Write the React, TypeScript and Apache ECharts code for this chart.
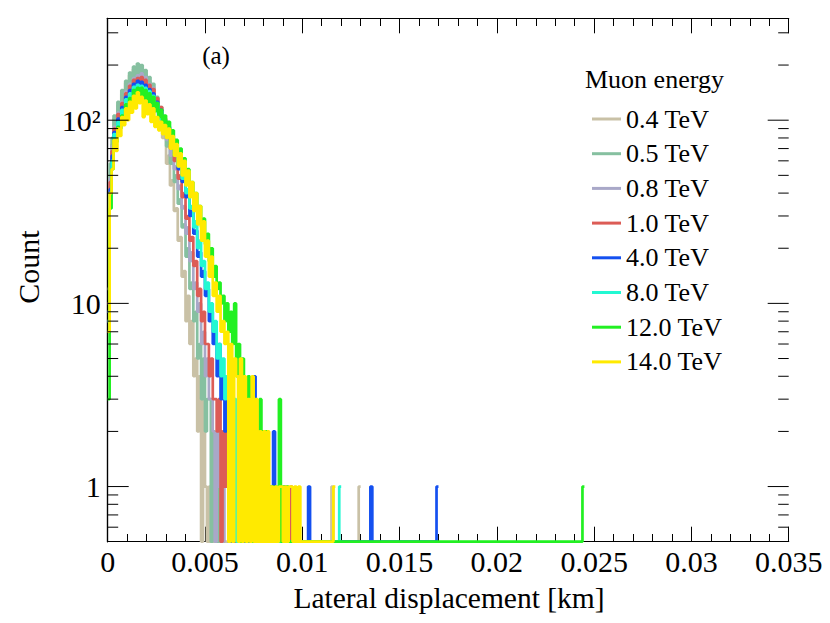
import React, { useEffect, useRef } from 'react';
import * as echarts from 'echarts';

// ---------- data ----------
const BIN_WIDTH = 0.0001; // km per histogram bin
const X_MIN = 0;
const X_MAX = 0.035;
const X_INTERVAL = 0.005;
const Y_MIN = 0.5;
const Y_MAX = 360;
const Y_TICK_VALUES = [1, 10, 100];
const Y_TICK_TEXT = ['1', '10', '10²'];
const Y_MINOR_TICKS = [0.6, 0.7, 0.8, 0.9, 2, 3, 4, 5, 6, 7, 8, 9, 20, 30, 40, 50, 60, 70, 80, 90, 200, 300];

const ENERGIES = ['0.4 TeV', '0.5 TeV', '0.8 TeV', '1.0 TeV', '4.0 TeV', '8.0 TeV', '12.0 TeV', '14.0 TeV'];
const COLORS = ['#c9c1a6', '#86c0a0', '#a9a8c8', '#dc5c56', '#1450f0', '#22f8d2', '#22f022', '#ffea00'];

// counts per bin (bin i covers [i*BIN_WIDTH, (i+1)*BIN_WIDTH])
const COUNTS_04 = [12, 52, 74, 102, 96, 121, 114, 140, 128, 160, 140, 176, 158, 190, 166, 194, 170, 188, 156, 178, 146, 162, 132, 148, 116, 124, 98, 106, 80, 84, 58, 64, 44, 47, 32, 33, 22, 23, 14, 15, 8, 11, 6, 8, 4, 5, 2, 4, 0, 3, 1, 0, 1, 0, 2, 0, 1];
const TAIL_04 = [[83, 1], [115, 1], [129, 1]];
const COUNTS_05 = [9, 58, 80, 106, 92, 126, 112, 146, 128, 164, 144, 182, 156, 196, 164, 204, 172, 200, 166, 188, 158, 172, 146, 158, 128, 134, 108, 118, 88, 98, 72, 80, 58, 64, 46, 50, 35, 37, 26, 27, 18, 20, 12, 13, 8, 9, 5, 6, 3, 5, 2, 3, 3, 0, 2, 1, 0, 1, 0, 1];
const TAIL_05: number[][] = [];
const COUNTS_08 = [8, 48, 72, 92, 90, 110, 106, 126, 120, 144, 128, 158, 140, 170, 148, 176, 156, 180, 150, 172, 144, 158, 134, 150, 120, 130, 106, 114, 92, 96, 78, 82, 64, 68, 54, 56, 42, 44, 33, 34, 24, 26, 17, 19, 12, 13, 9, 10, 6, 7, 4, 5, 3, 3, 2, 0, 2, 1, 1, 0, 1, 1];
const TAIL_08: number[][] = [];
const COUNTS_10 = [10, 46, 68, 90, 88, 108, 104, 124, 116, 140, 128, 154, 136, 166, 146, 170, 150, 172, 146, 166, 140, 156, 130, 148, 120, 132, 108, 118, 96, 102, 84, 88, 70, 74, 60, 62, 48, 50, 38, 40, 29, 30, 22, 23, 16, 17, 11, 12, 8, 9, 6, 6, 4, 5, 3, 3, 2, 3, 0, 2, 1, 2, 0, 1, 1];
const TAIL_10 = [[94, 1]];
const COUNTS_40 = [9, 42, 64, 86, 84, 102, 98, 118, 110, 134, 122, 146, 132, 158, 140, 164, 140, 162, 138, 156, 132, 148, 124, 140, 116, 126, 104, 114, 94, 100, 84, 92, 74, 80, 64, 68, 54, 58, 46, 48, 38, 40, 30, 32, 24, 25, 18, 19, 14, 15, 11, 12, 8, 9, 6, 7, 4, 6, 3, 4, 2, 3, 2, 0, 2, 1, 2, 0, 1, 0, 1, 0, 1, 0, 2, 4, 1, 0, 1, 0, 0, 1, 0, 0, 0, 2, 0, 0, 1, 0, 0, 1];
const TAIL_40 = [[103, 1], [135, 1], [169, 1]];
const COUNTS_80 = [8, 40, 60, 84, 80, 98, 94, 114, 106, 130, 118, 140, 128, 152, 136, 156, 138, 154, 132, 150, 128, 144, 122, 136, 112, 124, 102, 112, 94, 100, 84, 90, 74, 80, 64, 70, 56, 60, 48, 50, 40, 42, 33, 34, 26, 28, 20, 22, 16, 17, 12, 13, 9, 10, 7, 8, 5, 6, 4, 5, 3, 4, 0, 2, 2, 3, 0, 2, 1, 1, 2, 0, 1, 1, 0, 1];
const TAIL_80 = [[119, 1]];
const COUNTS_120 = [3, 33, 54, 78, 76, 92, 90, 106, 100, 122, 112, 132, 120, 146, 128, 150, 130, 150, 128, 146, 124, 140, 118, 134, 112, 124, 104, 114, 96, 106, 88, 98, 80, 88, 72, 78, 64, 70, 57, 62, 50, 54, 43, 46, 37, 40, 31, 34, 26, 29, 21, 24, 17, 20, 14, 16, 12, 13, 10, 11, 8, 10, 7, 9, 6, 10, 4, 6, 0, 5, 3, 0, 4, 2, 0, 3, 0, 1, 3, 2, 0, 2, 0, 1, 1, 0, 1, 0, 3, 0, 1, 0, 1];
const TAIL_120 = [[244, 1]];
const COUNTS_140 = [7, 40, 54, 78, 68, 90, 82, 104, 94, 116, 100, 126, 110, 136, 116, 142, 124, 134, 104, 128, 108, 122, 98, 116, 92, 104, 88, 98, 84, 94, 80, 90, 70, 82, 64, 74, 56, 66, 50, 60, 44, 53, 38, 46, 32, 40, 27, 34, 22, 28, 18, 22, 14, 18, 11, 13, 9, 11, 7, 8, 6, 7, 0, 6, 0, 5, 4, 0, 5, 0, 4, 0, 3, 0, 4, 0, 3, 0, 2, 0, 2, 0, 2, 0, 1, 0, 1, 0, 1, 1, 0, 1, 0, 1, 1, 0, 1, 0, 1];
const TAIL_140 = [[116, 1]];

const SERIES_COUNTS = [COUNTS_04, COUNTS_05, COUNTS_08, COUNTS_10, COUNTS_40, COUNTS_80, COUNTS_120, COUNTS_140];
const SERIES_TAILS = [TAIL_04, TAIL_05, TAIL_08, TAIL_10, TAIL_40, TAIL_80, TAIL_120, TAIL_140];

// ---------- helpers ----------
const FONT = "'Liberation Serif', 'DejaVu Serif', serif";
const MAJOR_Y_LEN = 21;
const MINOR_Y_LEN = 10.5;

function histPoints(body: number[], tail: number[][]): number[][] {
  const bins = body.slice();
  for (const [b, c] of tail) {
    while (bins.length <= b) bins.push(0);
    bins[b] = c;
  }
  const pts: number[][] = [];
  bins.forEach((c, i) => {
    const y = c > 0 ? c : Y_MIN; // empty bins sit on the frame floor (log axis)
    pts.push([+(i * BIN_WIDTH).toFixed(6), y], [+((i + 1) * BIN_WIDTH).toFixed(6), y]);
  });
  return pts;
}

function yLabel(v: number): string {
  const idx = Y_TICK_VALUES.findIndex((t) => Math.abs(Math.log10(v) - Math.log10(t)) < 1e-6);
  return idx >= 0 ? Y_TICK_TEXT[idx] : '';
}

export default function App() {
  const ref = useRef<HTMLDivElement>(null);

  useEffect(() => {
    if (!ref.current) return;
    const chart = echarts.init(ref.current, null, { renderer: 'svg' });

    const axisLine = { show: true, lineStyle: { color: '#000', width: 1.2 } };

    const histSeries = ENERGIES.map((name, k) => ({
      name,
      type: 'line',
      data: histPoints(SERIES_COUNTS[k], SERIES_TAILS[k]),
      showSymbol: false,
      symbol: 'none',
      silent: true,
      clip: true,
      lineStyle: { color: COLORS[k], width: 2.7 },
      itemStyle: { color: COLORS[k] },
      emphasis: { disabled: true },
      z: 2 + k * 0.01,
    }));

    const yTickData = [
      ...Y_TICK_VALUES.map((v) => [X_MIN, v, MAJOR_Y_LEN]),
      ...Y_MINOR_TICKS.map((v) => [X_MIN, v, MINOR_Y_LEN]),
    ];

    const yTickSeries = {
      type: 'custom',
      name: 'yTicks',
      silent: true,
      xAxisIndex: 0,
      yAxisIndex: 0,
      clip: false,
      z: 10,
      data: yTickData,
      encode: { x: 0, y: 1 },
      renderItem: (_params: any, api: any) => {
        const v = api.value(1);
        const len = api.value(2);
        const pl = api.coord([X_MIN, v]);
        const pr = api.coord([X_MAX, v]);
        return {
          type: 'group',
          children: [
            { type: 'line', shape: { x1: pl[0], y1: pl[1], x2: pl[0] + len, y2: pl[1] }, style: { stroke: '#000', lineWidth: 1 } },
            { type: 'line', shape: { x1: pr[0] - len, y1: pr[1], x2: pr[0], y2: pr[1] }, style: { stroke: '#000', lineWidth: 1 } },
          ],
        };
      },
    };

    chart.setOption({
      animation: false,
      backgroundColor: '#fff',
      grid: { left: 107.7, right: 41.3, top: 18.3, bottom: 81.3, containLabel: false, outerBoundsMode: 'none' },
      xAxis: [
        {
          type: 'value',
          min: X_MIN,
          max: X_MAX,
          interval: X_INTERVAL,
          position: 'bottom',
          axisLine,
          axisTick: { show: true, inside: true, length: 15, lineStyle: { color: '#000', width: 1 } },
          minorTick: { show: true, splitNumber: 5, length: 7.7, lineStyle: { color: '#000', width: 1 } },
          splitLine: { show: false },
          axisLabel: { show: true, margin: 5, fontFamily: FONT, fontSize: 30, color: '#000' },
        },
        {
          type: 'value',
          min: X_MIN,
          max: X_MAX,
          interval: X_INTERVAL,
          position: 'top',
          axisLine,
          axisTick: { show: true, inside: true, length: 15, lineStyle: { color: '#000', width: 1 } },
          minorTick: { show: true, splitNumber: 5, length: 7.7, lineStyle: { color: '#000', width: 1 } },
          splitLine: { show: false },
          axisLabel: { show: false },
        },
      ],
      yAxis: [
        {
          type: 'log',
          logBase: 10,
          min: Y_MIN,
          max: Y_MAX,
          position: 'left',
          axisLine,
          axisTick: { show: false },
          splitLine: { show: false },
          axisLabel: { show: true, margin: 7, fontFamily: FONT, fontSize: 30, color: '#000', formatter: yLabel },
        },
        {
          type: 'log',
          logBase: 10,
          min: Y_MIN,
          max: Y_MAX,
          position: 'right',
          axisLine,
          axisTick: { show: false },
          splitLine: { show: false },
          axisLabel: { show: false },
        },
      ],
      legend: {
        orient: 'vertical',
        left: 587,
        top: 101,
        itemWidth: 29,
        itemHeight: 3,
        itemGap: 8.7,
        itemTextGap: 6,
        icon: 'rect',
        selectedMode: false,
        data: ENERGIES,
        textStyle: { fontFamily: FONT, fontSize: 26, color: '#000', lineHeight: 26 },
      },
      graphic: [
        { type: 'text', x: 585, y: 79, silent: true, style: { text: 'Muon energy', fontFamily: FONT, fontSize: 26, fill: '#000', align: 'left', verticalAlign: 'middle' } },
        { type: 'text', x: 216, y: 55, silent: true, style: { text: '(a)', fontFamily: FONT, fontSize: 25, fill: '#000', align: 'center', verticalAlign: 'middle' } },
        { type: 'text', x: 28, y: 267, rotation: Math.PI / 2, silent: true, style: { text: 'Count', fontFamily: FONT, fontSize: 30, fill: '#000', align: 'center', verticalAlign: 'middle' } },
        { type: 'text', x: 449, y: 598, silent: true, style: { text: 'Lateral displacement [km]', fontFamily: FONT, fontSize: 29.5, fill: '#000', align: 'center', verticalAlign: 'middle' } },
      ],
      series: [...histSeries, yTickSeries],
    });

    return () => chart.dispose();
  }, []);

  return (
    <div
      ref={ref}
      style={{ position: 'absolute', left: 0, top: 0, width: 830, height: 623, background: '#fff' }}
    />
  );
}
